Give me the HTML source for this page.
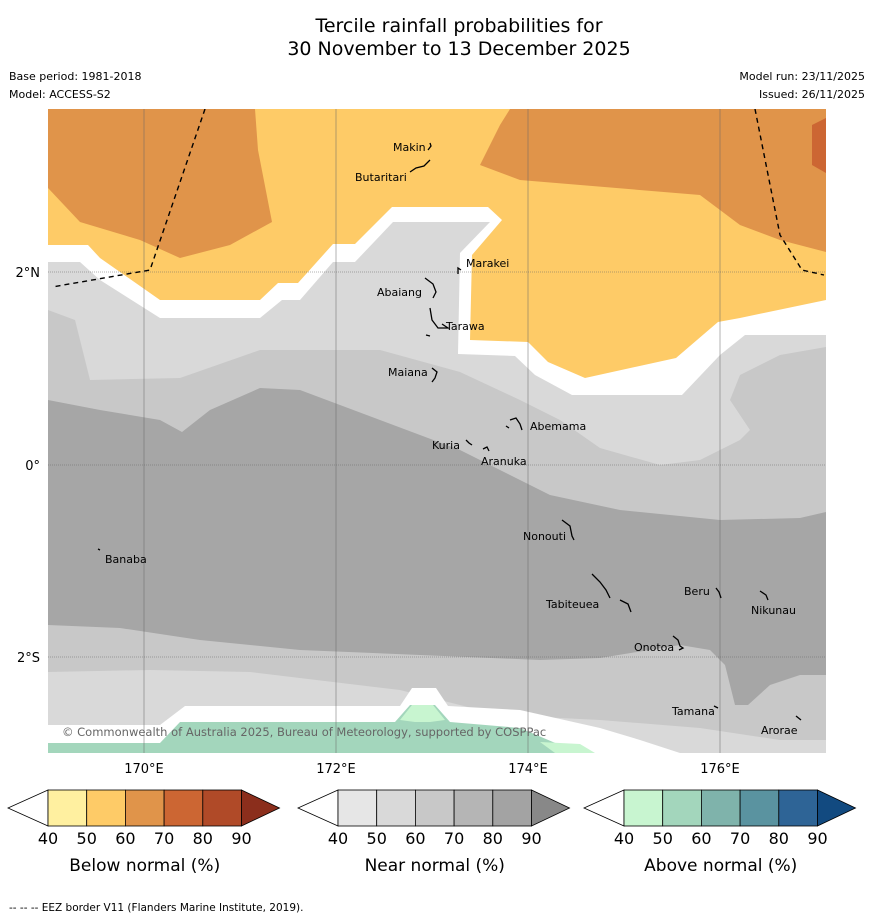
<!DOCTYPE html>
<html><head><meta charset="utf-8"><style>
body{margin:0;background:#fff;width:873px;height:919px;overflow:hidden;font-family:"DejaVu Sans",sans-serif}
svg{display:block}
</style></head><body>
<svg width="873" height="919" viewBox="0 0 873 919" font-family="DejaVu Sans, sans-serif">
<text x="459" y="32" font-size="19" text-anchor="middle">Tercile rainfall probabilities for</text>
<text x="459" y="55" font-size="19" text-anchor="middle">30 November to 13 December 2025</text>
<text x="9" y="80" font-size="11">Base period: 1981-2018</text>
<text x="9" y="98" font-size="11">Model: ACCESS-S2</text>
<text x="865" y="80" font-size="11" text-anchor="end">Model run: 23/11/2025</text>
<text x="865" y="98" font-size="11" text-anchor="end">Issued: 26/11/2025</text>

<defs><clipPath id="mc"><rect x="48" y="109" width="778" height="644"/></clipPath></defs>
<g clip-path="url(#mc)">
<rect x="48" y="109" width="778" height="644" fill="#fff"/>
<polygon fill="#fecb67" points="48,109 826,109 826,300 740,318 718,322 676,358 585,378 548,362 528,342 470,340 472,255 502,220 488,207 392,207 355,244 333,244 298,283 278,283 260,300 160,300 100,258 88,245 48,245"/>
<polygon fill="#e0944a" points="48,109 255,109 258,150 272,222 230,245 180,258 140,240 80,222 48,188"/>
<polygon fill="#e0944a" points="510,109 500,125 480,165 520,180 700,195 740,225 780,240 826,252 826,109"/>
<polygon fill="#cc6633" points="812,125 826,118 826,173 812,165"/>
<polygon fill="#d9d9d9" points="48,262 80,262 100,280 160,318 260,318 282,300 300,300 333,262 355,262 393,222 490,222 460,253 458,354 515,356 535,375 572,395 682,395 720,355 745,335 826,335 826,753 48,753"/>
<polygon fill="#c8c8c8" points="48,310 75,320 90,380 180,378 260,350 380,350 460,372 520,400 560,420 600,448 660,465 700,460 740,440 750,430 730,400 740,375 780,355 826,347 826,753 48,753"/>
<polygon fill="#a6a6a6" points="48,400 100,410 160,420 182,432 210,410 260,388 300,390 380,420 460,450 520,480 550,495 620,510 720,520 800,518 826,512 826,675 800,675 770,685 748,705 735,705 725,665 710,650 680,645 600,658 540,660 420,655 300,650 200,640 120,628 48,625"/>
<polygon fill="#d9d9d9" points="48,672 150,670 250,672 400,690 500,715 600,720 700,728 780,740 826,740 826,753 48,753"/>
<polygon fill="#fff" points="48,725 160,725 185,706 400,706 412,688 436,688 448,706 520,710 600,728 640,740 680,753 48,753"/>
<polygon fill="#a3d6bc" points="48,743 160,743 180,722 395,722 410,705 435,705 450,722 520,728 560,745 575,753 48,753"/>
<polygon fill="#c8f5d0" points="400,720 412,705 433,705 445,720 430,722 415,722"/>
<polygon fill="#c8f5d0" points="540,742 580,744 595,753 555,753"/>
<g stroke="#666" stroke-width="0.5">
<line x1="144" y1="109" x2="144" y2="753"/><line x1="336" y1="109" x2="336" y2="753"/><line x1="528" y1="109" x2="528" y2="753"/><line x1="720" y1="109" x2="720" y2="753"/>
<line x1="48" y1="272" x2="826" y2="272" stroke-dasharray="1,1"/><line x1="48" y1="465" x2="826" y2="465" stroke-dasharray="1,1"/><line x1="48" y1="657" x2="826" y2="657" stroke-dasharray="1,1"/>
</g>
<polyline fill="none" stroke="#000" stroke-width="1.4" stroke-dasharray="5,4" points="205,109 150,270 52,287"/>
<polyline fill="none" stroke="#000" stroke-width="1.4" stroke-dasharray="5,4" points="755,109 780,235 802,270 824,275"/>
<g id="islands" fill="none" stroke="#000" stroke-width="1.3"></g>
<g id="labels" font-size="11"></g>
<text x="62" y="736" font-size="11.5" fill="#666">© Commonwealth of Australia 2025, Bureau of Meteorology, supported by COSPPac</text>
</g>

<text x="40" y="277" font-size="13" text-anchor="end">2°N</text>
<text x="40" y="470" font-size="13" text-anchor="end">0°</text>
<text x="40" y="662" font-size="13" text-anchor="end">2°S</text>
<text x="144" y="773" font-size="13" text-anchor="middle">170°E</text>
<text x="336" y="773" font-size="13" text-anchor="middle">172°E</text>
<text x="528" y="773" font-size="13" text-anchor="middle">174°E</text>
<text x="720" y="773" font-size="13" text-anchor="middle">176°E</text>

<g id="bars"></g>
<text x="9" y="911" font-size="10.5">--  --  -- EEZ border V11 (Flanders Marine Institute, 2019).</text>
</svg>
<script>
const islandNames=["Makin","Butaritari","Marakei","Abaiang","Tarawa","Maiana","Abemama","Kuria","Aranuka","Nonouti","Banaba","Beru","Tabiteuea","Nikunau","Onotoa","Tamana","Arorae"];
const labelX=[393,355,466,377,446,388,530,432,481,523,105,684,546,751,634,672,761];
const labelY=[151,181,267,296,330,376,430,449,465,540,563,595,608,614,651,715,734];
const islandPaths=["M428,150 l3,-4 l-1,-3","M410,172 l6,-4 l8,-2 l6,-6","M458,274 l0,-6 l3,2","M425,278 l8,6 l3,8 l-3,6","M430,308 l2,12 l6,8 l10,0 l-6,-4 M426,335 l4,1","M432,368 l5,4 l-2,6 l-3,4","M510,420 l6,-2 l4,6 l2,6 M506,426 l3,2","M466,440 l3,3 l3,2","M483,449 l4,-2 l2,4","M562,520 l8,6 l2,10 l2,4","M98,549 l2,1","M716,588 l3,4 l2,6","M592,574 l8,8 l6,8 l4,8 M620,600 l8,4 l3,8","M760,591 l6,4 l2,5","M673,636 l5,4 l2,6 l3,2 l-4,2","M714,706 l4,2","M796,716 l5,4"];
const lg=document.getElementById('labels'),ig=document.getElementById('islands');
const NS='http://www.w3.org/2000/svg';
islandNames.forEach((n,i)=>{
 const t=document.createElementNS(NS,'text');t.setAttribute('x',labelX[i]);t.setAttribute('y',labelY[i]);t.textContent=n;
 
 
 lg.appendChild(t);
 const p=document.createElementNS(NS,'path');p.setAttribute('d',islandPaths[i]);
 
 
 ig.appendChild(p);
});
const barTitles=["Below normal (%)","Near normal (%)","Above normal (%)"];
const barStarts=[48,338,624];
const tickLabels=["40","50","60","70","80","90"];
const barColors=[["#fff0a0","#fecb67","#e0944a","#cc6633","#b04a28","#8b2e1c"],["#e6e6e6","#d9d9d9","#c8c8c8","#b5b5b5","#a3a3a3","#888888"],["#c8f5d0","#a3d6bc","#7fb3ab","#5a93a0","#2e6496","#124a80"]];
const bg=document.getElementById('bars');const w=38.7,y0=790,h=36;
barStarts.forEach((x0,b)=>{
 const g=document.createElementNS(NS,'g');
 
 
 bg.appendChild(g);
 let s='';
 s+=`<polygon points="${x0},${y0} ${x0-40},${y0+h/2} ${x0},${y0+h}" fill="#fff" stroke="#000" stroke-width="0.8"/>`;
 for(let i=0;i<5;i++)s+=`<rect x="${x0+i*w}" y="${y0}" width="${w}" height="${h}" fill="${barColors[b][i]}" stroke="#000" stroke-width="0.8"/>`;
 const xe=x0+5*w;
 s+=`<polygon points="${xe},${y0} ${xe+38},${y0+h/2} ${xe},${y0+h}" fill="${barColors[b][5]}" stroke="#000" stroke-width="0.8"/>`;
 tickLabels.forEach((t,i)=>{s+=`<text x="${x0+i*w}" y="${y0+h+18}" font-size="16" text-anchor="middle">${t}</text>`;});
 s+=`<text x="${x0+2.5*w}" y="871" font-size="17" text-anchor="middle">${barTitles[b]}</text>`;
 g.innerHTML=s;
});
</script>
</body></html>
